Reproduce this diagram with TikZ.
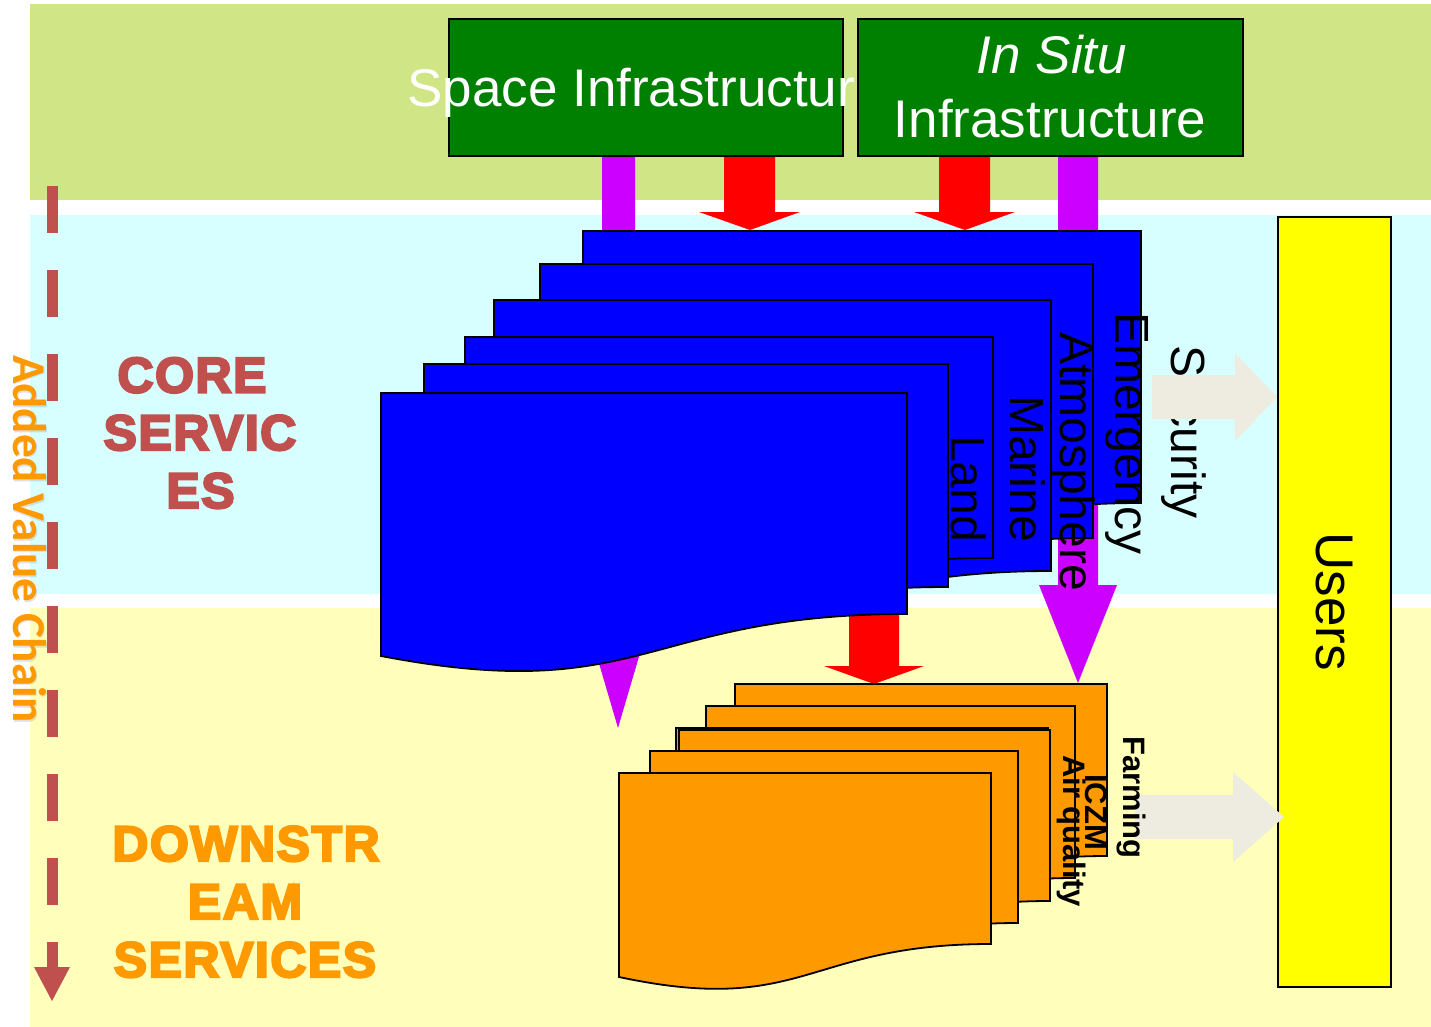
\documentclass[tikz,border=0pt]{standalone}
\usepackage{fontspec}
\setmainfont{Liberation Sans}
\newfontfamily\calib{Carlito}
\newfontfamily\heavy[FakeBold=4.5,LetterSpace=3]{Liberation Sans Bold}
\definecolor{bandgreen}{RGB}{208,229,133}
\definecolor{bandcyan}{RGB}{216,255,255}
\definecolor{bandyellow}{RGB}{255,255,187}
\definecolor{boxgreen}{RGB}{0,128,0}
\definecolor{purp}{RGB}{204,0,255}
\definecolor{chainred}{RGB}{192,80,77}
\definecolor{orng}{RGB}{255,153,0}
\definecolor{greyarrow}{RGB}{238,236,225}
\definecolor{usersyellow}{RGB}{255,255,0}
\newcommand\card[6]{%
  \filldraw[fill=#6, draw=black, line width=1.8, line join=miter]
    (#1,#2) -- (#3,#2) -- (#3,#4)
    .. controls ({(#1+#3)/2},#4) and ({(#1+#3)/2},{#5+1.2*(#5-#4)}) .. (#1,#5) -- cycle;}
\tikzset{
  gbox/.style={draw=black, fill=boxgreen, line width=1.8, anchor=north west, inner sep=0},
  wtext/.style={text=white, inner sep=0, font=\fontsize{53}{64}\selectfont},
  bluelab/.style={rotate=-90, anchor=base west, inner sep=0, text=black, font=\fontsize{48}{58}\selectfont},
  orlab/.style={rotate=-90, anchor=base west, inner sep=0, text=black, font=\bfseries\fontsize{31}{37}\selectfont},
  bigword/.style={anchor=base, inner sep=0, font=\heavy\fontsize{50}{58}\selectfont},
}
\begin{document}
\begin{tikzpicture}[x=1pt,y=-1pt]
\useasboundingbox (0,0) rectangle (1431,1027);
\fill[white] (0,0) rectangle (1431,1027);
% bands
\fill[bandgreen] (30,4) rectangle (1431,200);
\fill[bandcyan] (30,215) rectangle (1431,594);
\fill[bandyellow] (30,608) rectangle (1431,1027);
% added value chain
\draw[chainred, line width=11, dash pattern=on 47pt off 37pt] (52,186) -- (52,967);
\fill[chainred] (34,967) -- (70,967) -- (52,1001) -- cycle;
\node[rotate=-90, anchor=base west, inner sep=0, text=black!40, opacity=0.3, font=\calib\bfseries\fontsize{47}{56}\selectfont] (avcshadow) at (14.5,356.5) {Added Value Chain};
\node[rotate=-90, anchor=base west, inner sep=0, text=orng, font=\calib\bfseries\fontsize{47}{56}\selectfont] (avc) at (13,355) {Added Value Chain};
% left titles
\node[bigword, text=chainred] (core1) at (192,392.5) {CORE};
\node[bigword, text=chainred] (core2) at (200,450) {SERVIC};
\node[bigword, text=chainred] (core3) at (200.5,508) {ES};
\node[bigword, text=orng] (down1) at (246,861) {DOWNSTR};
\node[bigword, text=orng] (down2) at (245,919) {EAM};
\node[bigword, text=orng] (down3) at (245,977) {SERVICES};
% purple and red arrows
\fill[purp] (602,155) -- (635,155) -- (635,592) -- (658,592) -- (618,728) -- (578,592) -- (602,592) -- cycle;
\fill[purp] (1058,155) -- (1098,155) -- (1098,585) -- (1117,585) -- (1078,683) -- (1039,585) -- (1058,585) -- cycle;
\fill[red] (724,155) -- (775,155) -- (775,212) -- (800,212) -- (750,230) -- (699,212) -- (724,212) -- cycle;
\fill[red] (939,155) -- (990,155) -- (990,212) -- (1015,212) -- (965,230) -- (914,212) -- (939,212) -- cycle;
\fill[red] (849,600) -- (899,600) -- (899,666) -- (924,666) -- (874,684) -- (824,666) -- (849,666) -- cycle;
% green boxes
\node[gbox, minimum width=394pt, minimum height=137pt] (space) at (448,18) {};
\node[wtext, anchor=base] (spacetext) at (646,107) {Space Infrastructure};
\node[gbox, minimum width=385pt, minimum height=137pt] (insitu) at (857,18) {};
\node[wtext, anchor=base] (insitu1) at (1052,74) {\itshape In Situ};
\node[wtext, anchor=base] (insitu2) at (1050,138) {Infrastructure};
% blue cards
\card{583}{231}{1141}{503}{555}{blue}
\card{540}{264}{1093}{538}{590}{blue}
\card{494}{300}{1051}{571}{622}{blue}
\card{465}{337}{993}{558}{600}{blue}
\card{424}{364}{948}{587}{629}{blue}
\card{381}{393}{907}{614}{656}{blue}
\node[bluelab] (emergency) at (1115,312) {Emergency};
\node[bluelab] (atmosphere) at (1060,332) {Atmosphere};
\node[bluelab] (marine) at (1010,395) {Marine};
\node[bluelab] (land) at (951,435) {Land};
% users
\node[draw=black, fill=usersyellow, line width=1.8, anchor=north west, inner sep=0, minimum width=113pt, minimum height=770pt] (users) at (1277,216) {};
\node[rotate=-90, inner sep=0, font=\fontsize{53}{64}\selectfont] (userstext) at (users.center) {Users};
\node[bluelab] (security) at (1171,345) {Security};
\fill[greyarrow] (1152,375) -- (1235,375) -- (1235,353) -- (1277,397) -- (1235,441) -- (1235,419) -- (1152,419) -- cycle;
% orange cards
\card{735}{684}{1107}{856}{889}{orng}
\card{706}{706}{1075}{878}{911}{orng}
\card{676}{728}{1048}{899}{931}{orng}
\card{679}{730}{1050}{901}{933}{orng}
\card{650}{751}{1018}{923}{956}{orng}
\card{619}{773}{991}{944}{977}{orng}
\fill[greyarrow] (1135,795) -- (1233,795) -- (1233,772) -- (1284,817) -- (1233,862) -- (1233,839) -- (1135,839) -- cycle;
\node[orlab] (farming) at (1123,736) {Farming};
\node[orlab] (iczm) at (1085,774) {ICZM};
\node[orlab] (airq) at (1063,755) {Air quality};
\end{tikzpicture}
\end{document}
